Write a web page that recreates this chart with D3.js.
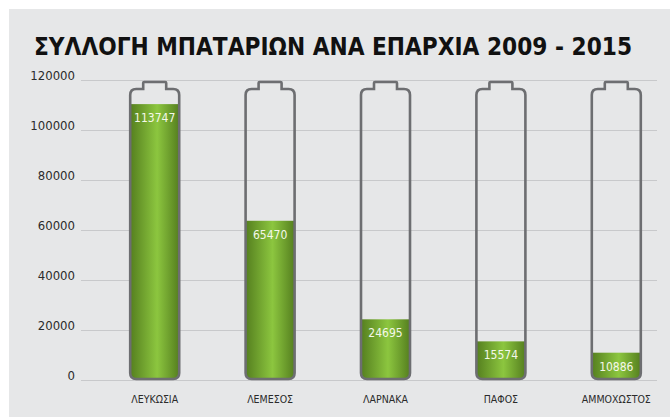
<!DOCTYPE html>
<html>
<head>
<meta charset="utf-8">
<script src="https://cdn.jsdelivr.net/npm/d3@7"></script>
<style>
  body { margin: 0; background: #fff; }
  svg text { font-family: "DejaVu Sans Condensed", "DejaVu Sans", sans-serif; }
</style>
</head>
<body>
<div id="chart"></div>
<script>
// data
var districts = ["ΛΕΥΚΩΣΙΑ", "ΛΕΜΕΣΟΣ", "ΛΑΡΝΑΚΑ", "ΠΑΦΟΣ", "ΑΜΜΟΧΩΣΤΟΣ"];
var batteries = [113747, 65470, 24695, 15574, 10886];
var yTicks = [0, 20000, 40000, 60000, 80000, 100000, 120000];
var title = "ΣΥΛΛΟΓΗ ΜΠΑΤΑΡΙΩΝ ΑΝΑ ΕΠΑΡΧΙΑ 2009 - 2015";

var data = districts.map(function (d, i) {
    return {name: d, value: batteries[i]};
});

var width = 672, height = 417;

var svg = d3.select("#chart").append("svg")
    .attr("width", width)
    .attr("height", height);

var defs = svg.append("defs");
var grad = defs.append("linearGradient")
    .attr("id", "green")
    .attr("x1", "0%").attr("x2", "100%")
    .attr("y1", "0%").attr("y2", "0%");
grad.append("stop").attr("offset", "0%").attr("stop-color", "#557f1f");
grad.append("stop").attr("offset", "55%").attr("stop-color", "#8cc63f");
grad.append("stop").attr("offset", "100%").attr("stop-color", "#557f1f");

// panel background
svg.append("rect")
    .attr("x", 9).attr("y", 9)
    .attr("width", 661).attr("height", 408)
    .attr("fill", "#e6e7e8");

svg.append("text")
    .attr("x", 333)
    .attr("y", 55)
    .attr("text-anchor", "middle")
    .attr("font-size", 24)
    .attr("font-weight", "bold")
    .attr("fill", "#111")
    .attr("textLength", 598)
    .attr("lengthAdjust", "spacingAndGlyphs")
    .text(title);

var x = d3.scaleBand()
    .domain(districts)
    .range([97, 674]);

var y = d3.scaleLinear()
    .domain([0, 120000])
    .range([380.5, 80.5]);

// battery body scale (fill runs from battery bottom to body top)
var yFill = d3.scaleLinear()
    .domain([0, 120000])
    .range([379, 89]);

// grid + labels
var grid = svg.append("g");
grid.selectAll("line")
    .data(yTicks)
    .enter().append("line")
    .attr("x1", 81).attr("x2", 657)
    .attr("y1", function (d) { return y(d); })
    .attr("y2", function (d) { return y(d); })
    .attr("stroke", "#c8c9cb")
    .attr("stroke-width", 1.2);

grid.selectAll("text")
    .data(yTicks)
    .enter().append("text")
    .attr("x", 75)
    .attr("y", function (d) { return y(d) - 1; })
    .attr("text-anchor", "end")
    .attr("font-size", 13)
    .attr("fill", "#2b2b2b")
    .text(function (d) { return d; });

var bw = 49, capW = 23, capH = 7, r = 6;

function batteryPath(cx) {
    var l = cx - bw / 2, rt = cx + bw / 2;
    var top = yFill(120000), bot = yFill(0);
    var cl = cx - capW / 2, cr = cx + capW / 2;
    return "M" + l + "," + (bot - r) +
        "L" + l + "," + (top + r) +
        "Q" + l + "," + top + " " + (l + r) + "," + top +
        "L" + cl + "," + top +
        "L" + cl + "," + (top - capH + 1) +
        "Q" + cl + "," + (top - capH) + " " + (cl + 1) + "," + (top - capH) +
        "L" + (cr - 1) + "," + (top - capH) +
        "Q" + cr + "," + (top - capH) + " " + cr + "," + (top - capH + 1) +
        "L" + cr + "," + top +
        "L" + (rt - r) + "," + top +
        "Q" + rt + "," + top + " " + rt + "," + (top + r) +
        "L" + rt + "," + (bot - r) +
        "Q" + rt + "," + bot + " " + (rt - r) + "," + bot +
        "L" + (l + r) + "," + bot +
        "Q" + l + "," + bot + " " + l + "," + (bot - r) + "Z";
}

var bars = svg.append("g").selectAll("g")
    .data(data)
    .enter().append("g");

bars.each(function (d, i) {
    var g = d3.select(this);
    var cx = x(d.name) + x.bandwidth() / 2;
    defs.append("clipPath").attr("id", "clip" + i)
        .append("path").attr("d", batteryPath(cx));

    g.append("rect")
        .attr("clip-path", "url(#clip" + i + ")")
        .attr("x", cx - bw / 2)
        .attr("width", bw)
        .attr("y", yFill(d.value))
        .attr("height", yFill(0) - yFill(d.value))
        .attr("fill", "url(#green)");

    g.append("path")
        .attr("d", batteryPath(cx))
        .attr("fill", "none")
        .attr("stroke", "#6d6e71")
        .attr("stroke-width", 2.6);

    var ty = Math.min(yFill(d.value) + 18, yFill(0) - 8);
    g.append("text")
        .attr("x", cx)
        .attr("y", ty)
        .attr("text-anchor", "middle")
        .attr("font-size", 12)
        .attr("fill", "#f4f8ea")
        .text(d.value);

    g.append("text")
        .attr("x", cx)
        .attr("y", 403)
        .attr("text-anchor", "middle")
        .attr("font-size", 10.5)
        .attr("fill", "#2b2b2b")
        .text(d.name);
});
</script>
</body>
</html>
